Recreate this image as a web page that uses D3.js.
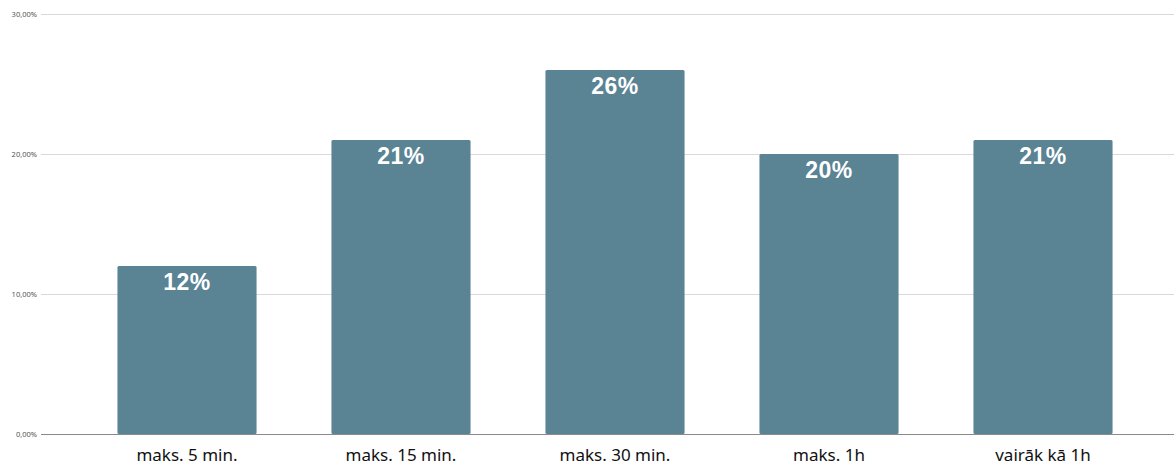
<!DOCTYPE html>
<html lang="lv">
<head>
    <meta charset="UTF-8">
    <title></title>
    <script src="https://cdn.jsdelivr.net/npm/d3@7/dist/d3.min.js"></script>
    <style>
        body { margin: 0; background: #fff; }
    </style>
</head>
<body>
    <div id="root"></div>
    <script>
        // data
        const categories = ['maks. 5 min.', 'maks. 15 min.', 'maks. 30 min.', 'maks. 1h', 'vairāk kā 1h'];
        const values = [12, 21, 26, 20, 21];
        const yTicks = [0, 10, 20, 30];

        const width = 1174, height = 465;
        const plotLeft = 41, plotRight = 1174;
        const plotTop = 14, plotBottom = 434;

        const svg = d3.select('#root')
            .append('svg')
            .attr('width', width)
            .attr('height', height);

        const x = d3.scaleBand()
            .domain(categories)
            .range([80, 1150])
            .paddingInner(0.35)
            .paddingOuter(0.175);

        const y = d3.scaleLinear()
            .domain([0, 30])
            .range([plotBottom, plotTop]);

        const fmt = v => v.toFixed(2).replace('.', ',') + '%';

        // gridlines
        svg.append('g')
            .selectAll('line')
            .data(yTicks.filter(t => t > 0))
            .enter()
            .append('line')
            .attr('x1', plotLeft)
            .attr('x2', plotRight)
            .attr('y1', d => y(d) + 0.5)
            .attr('y2', d => y(d) + 0.5)
            .attr('stroke', '#d9d9d9')
            .attr('stroke-width', 1);

        // tick labels
        svg.append('g')
            .selectAll('text')
            .data(yTicks)
            .enter()
            .append('text')
            .attr('x', 37)
            .attr('y', d => y(d) + 3)
            .attr('text-anchor', 'end')
            .attr('font-family', 'Noto Sans, sans-serif')
            .attr('font-size', 7.5)
            .attr('fill', '#555')
            .text(fmt);

        // bars
        svg.append('g')
            .selectAll('rect')
            .data(values)
            .enter()
            .append('rect')
            .attr('x', (d, i) => x(categories[i]))
            .attr('y', d => y(d))
            .attr('width', x.bandwidth())
            .attr('height', d => plotBottom - y(d))
            .attr('rx', 1.5)
            .attr('fill', '#5a8394');

        // value labels
        svg.append('g')
            .selectAll('text')
            .data(values)
            .enter()
            .append('text')
            .attr('x', (d, i) => x(categories[i]) + x.bandwidth() / 2)
            .attr('y', d => y(d) + 24)
            .attr('text-anchor', 'middle')
            .attr('font-family', 'Liberation Sans, Arial, sans-serif')
            .attr('font-weight', 'bold')
            .attr('font-size', 23)
            .attr('letter-spacing', 0.5)
            .attr('fill', '#fff')
            .text(d => d + '%');

        // baseline
        svg.append('line')
            .attr('x1', plotLeft)
            .attr('x2', plotRight)
            .attr('y1', plotBottom + 0.5)
            .attr('y2', plotBottom + 0.5)
            .attr('stroke', '#8a8a8a')
            .attr('stroke-width', 1.2);

        // category labels
        svg.append('g')
            .selectAll('text')
            .data(categories)
            .enter()
            .append('text')
            .attr('x', d => x(d) + x.bandwidth() / 2)
            .attr('y', 461)
            .attr('text-anchor', 'middle')
            .attr('font-family', 'Noto Sans, sans-serif')
            .attr('font-size', 17)
            .attr('fill', '#111')
            .text(d => d);
    </script>
</body>
</html>
